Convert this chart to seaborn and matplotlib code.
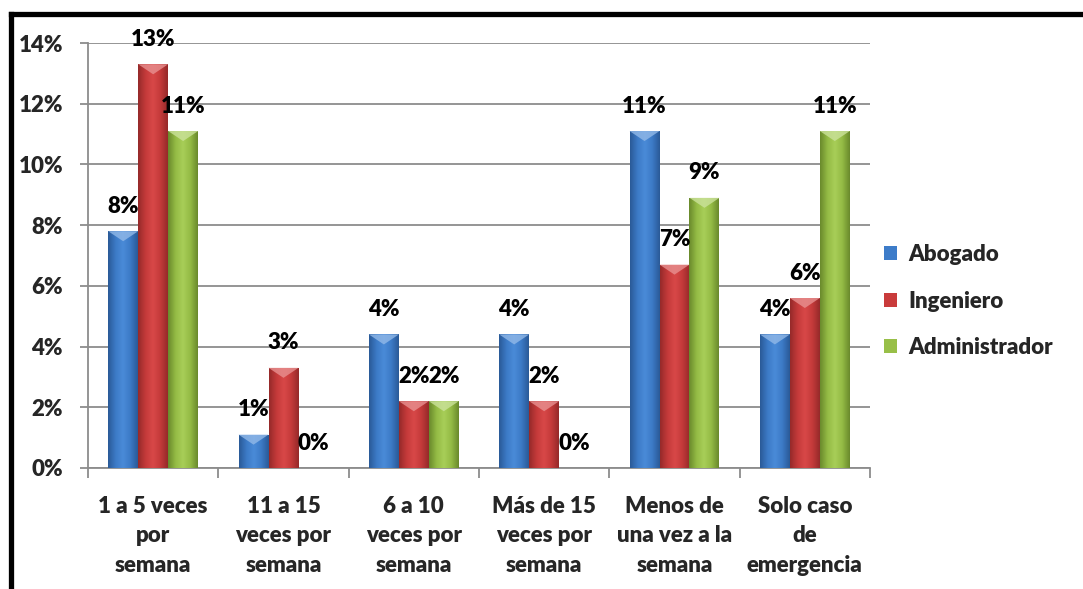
import numpy as np
import pandas as pd
import matplotlib
matplotlib.use("Agg")
import matplotlib.pyplot as plt
import seaborn as sns
from matplotlib.colors import LinearSegmentedColormap, to_rgb
from matplotlib.patches import Polygon
from matplotlib.lines import Line2D
from matplotlib.ticker import FuncFormatter, FixedLocator

categories = ["1 a 5 veces\npor\nsemana", "11 a 15\nveces por\nsemana", "6 a 10\nveces por\nsemana",
              "Más de 15\nveces por\nsemana", "Menos de\nuna vez a la\nsemana", "Solo caso\nde\nemergencia"]
series = ["Abogado", "Ingeniero", "Administrador"]
abogado = [7.8, 1.1, 4.4, 4.4, 11.1, 4.4]
ingeniero = [13.3, 3.3, 2.2, 2.2, 6.7, 5.6]
administrador = [11.1, 0.0, 2.2, 0.0, 8.9, 11.1]
yticks = [0, 2, 4, 6, 8, 10, 12, 14]

colors = {"Abogado": "#3D7CC9", "Ingeniero": "#C93B3B", "Administrador": "#98BF48"}
grads = {
    "Abogado": ["#2A5A98", "#3C7AC6", "#4A8BD8", "#3C7AC6", "#2A5A98"],
    "Ingeniero": ["#962A2A", "#C43A3A", "#D84848", "#C43A3A", "#962A2A"],
    "Administrador": ["#6A8A2C", "#94BB45", "#A8CE58", "#94BB45", "#6A8A2C"],
}

rows = []
for s, vals in zip(series, [abogado, ingeniero, administrador]):
    for c, v in zip(categories, vals):
        rows.append({"cat": c, "serie": s, "val": v})
df = pd.DataFrame(rows)

sns.set_theme(style="white")
plt.rcParams["font.family"] = ["Lato", "DejaVu Sans"]
W = 800
plt.rcParams["font.weight"] = W
FS = 16

fig = plt.figure(figsize=(10.83, 5.89), dpi=100)
ax = fig.add_axes([88 / 1083, 1 - 468 / 589, (870 - 88) / 1083, (468 - 43) / 589])

sns.barplot(data=df, x="cat", y="val", hue="serie", order=categories, hue_order=series,
            palette=colors, width=0.69, saturation=1, ax=ax, zorder=3, linewidth=0)

ax.set_ylim(0, 14)
ax.set_xlim(-0.5, len(categories) - 0.5)

# gradient fill + bevel on each bar
for cont, s in zip(ax.containers, series):
    cmap = LinearSegmentedColormap.from_list(s, grads[s])
    grad = np.linspace(0, 1, 64).reshape(1, -1)
    for p in cont.patches:
        h = p.get_height()
        if h <= 0:
            continue
        x0, w = p.get_x(), p.get_width()
        im = ax.imshow(grad, cmap=cmap, extent=(x0, x0 + w, 0, h), aspect="auto",
                       zorder=3.5, origin="lower")
        im.set_clip_path(p)
        depth = 0.33
        lt = np.array(to_rgb(grads[s][2])) * 0.6 + 0.4
        tri = Polygon([(x0, h), (x0 + w, h), (x0 + w / 2, h - depth)], closed=True,
                      facecolor=np.clip(lt, 0, 1), edgecolor="none", zorder=3.6, alpha=0.8)
        ax.add_patch(tri)

ax.set_ylim(0, 14)
ax.set_xlim(-0.5, len(categories) - 0.5)

# data labels
for cont, vals in zip(ax.containers, [abogado, ingeniero, administrador]):
    for p, v in zip(cont.patches, vals):
        ax.annotate(f"{v:.0f}%", (p.get_x() + p.get_width() / 2, p.get_height()),
                    xytext=(0, 18), textcoords="offset points", ha="center", va="center",
                    fontsize=FS, fontweight=W, color="black", zorder=5,
                    annotation_clip=False)

# axes styling
ax.set_yticks(yticks)
ax.yaxis.set_major_formatter(FuncFormatter(lambda v, _: f"{v:.0f}%"))
ax.grid(axis="y", color="#8C8C8C", linewidth=1.3, zorder=0)
ax.set_axisbelow(True)
for side in ["top", "right"]:
    ax.spines[side].set_visible(False)
for side in ["left", "bottom"]:
    ax.spines[side].set_color("#8C8C8C")
    ax.spines[side].set_linewidth(1.3)
ax.tick_params(axis="y", which="major", length=6, width=1.3, color="#8C8C8C",
               labelsize=FS, pad=12, left=True)
ax.tick_params(axis="x", which="major", length=0, labelsize=FS, pad=20)
ax.xaxis.set_minor_locator(FixedLocator(np.arange(-0.5, len(categories), 1.0)))
ax.tick_params(axis="x", which="minor", length=7.5, width=1.3, color="#8C8C8C", bottom=True)
for lbl in ax.get_xticklabels():
    lbl.set_linespacing(1.5)
    lbl.set_fontweight(W)
for lbl in ax.get_yticklabels():
    lbl.set_fontweight(W)
ax.set_xlabel("")
ax.set_ylabel("")

# legend
handles, labels = ax.get_legend_handles_labels()
if ax.get_legend() is not None:
    ax.get_legend().remove()
leg = fig.legend(handles, labels, loc="center left", bbox_to_anchor=(864 / 1083, 1 - 301 / 589),
                 frameon=False, handlelength=0.6, handleheight=0.6,
                 handletextpad=0.5, labelspacing=1.15, prop={"weight": W, "size": FS})

# outer border (left and top)
fig.add_artist(Line2D([10.5 / 1083, 10.5 / 1083], [0, 1 - 13.5 / 589], transform=fig.transFigure,
                      color="black", linewidth=3.8, solid_capstyle="projecting"))
fig.add_artist(Line2D([10.5 / 1083, 1], [1 - 13.5 / 589, 1 - 13.5 / 589], transform=fig.transFigure,
                      color="black", linewidth=3.8, solid_capstyle="projecting"))

fig.savefig("out.png", dpi=100, facecolor="white")
